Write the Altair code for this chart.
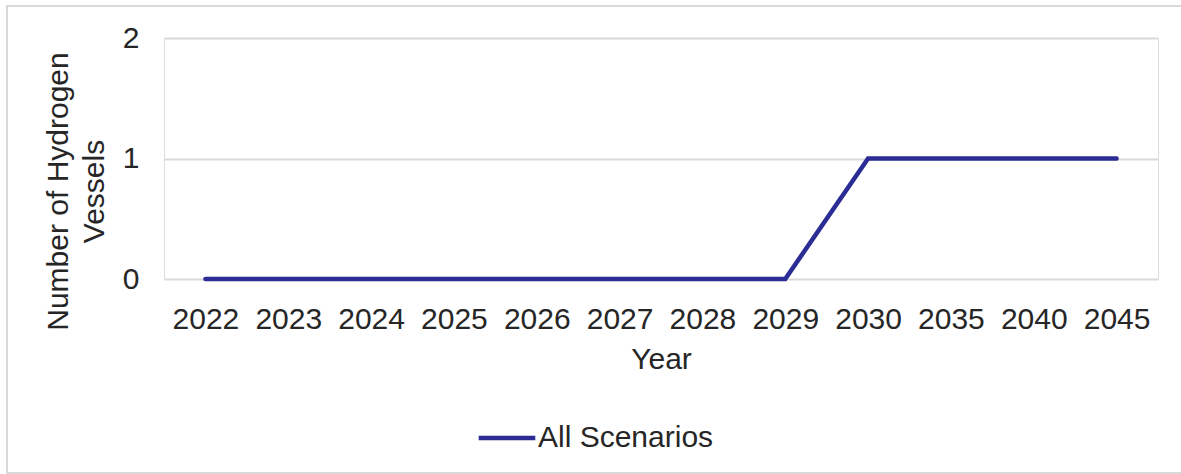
import altair as alt
import pandas as pd

years = ["2022", "2023", "2024", "2025", "2026", "2027", "2028", "2029",
         "2030", "2035", "2040", "2045"]
vessels = [0, 0, 0, 0, 0, 0, 0, 0, 1, 1, 1, 1]
series = "All Scenarios"

df = pd.DataFrame({"Year": years, "Vessels": vessels, "Series": [series] * len(years)})

FONT = "Liberation Sans"
TXT = "#262626"
W, H = 994, 241
PL, PT = 164, 38

line = alt.Chart(df).mark_line(strokeWidth=4.5, strokeCap="round").encode(
    x=alt.X("Year:O", sort=years,
            axis=alt.Axis(title="Year", labelAngle=0, domain=False, ticks=False, tickSize=0,
                          grid=False, labelFontSize=30, labelFont=FONT, labelColor=TXT,
                          labelBaseline="alphabetic", labelPadding=49,
                          titleFontSize=30, titleFont=FONT, titleColor=TXT,
                          titleFontWeight="normal", titleBaseline="alphabetic",
                          titleY=89, titleX=W / 2)),
    y=alt.Y("Vessels:Q", scale=alt.Scale(domain=[0, 2]),
            axis=alt.Axis(title=["Number of Hydrogen", "Vessels"], values=[0, 1, 2],
                          format=".0f", labelOverlap=False,
                          domain=False, ticks=False, tickSize=0, grid=True,
                          gridColor="#D9D9D9", gridWidth=2,
                          labelFontSize=30, labelFont=FONT, labelColor=TXT, labelPadding=25,
                          titleFontSize=30, titleFont=FONT, titleColor=TXT,
                          titleFontWeight="normal", titleLineHeight=36,
                          titleAngle=270, titleBaseline="bottom",
                          titleX=-91, titleY=153, titleAlign="center")),
    color=alt.Color("Series:N", scale=alt.Scale(range=["#2B2D95"]),
                    legend=alt.Legend(title=None, orient="none", legendX=312, legendY=369,
                                      symbolType="stroke", symbolSize=3200,
                                      symbolStrokeWidth=4.5, labelFontSize=30,
                                      labelFont=FONT, labelColor=TXT, labelOffset=0,
                                      labelLimit=400, padding=0)),
)

border = alt.Chart(df).mark_rect(fill=None, stroke="#D9D9D9", strokeWidth=2).encode(
    x=alt.value(7 - PL), x2=alt.value(1200 - PL), y=alt.value(6 - PT), y2=alt.value(473 - PT)
)

chart = alt.layer(border, line).properties(
    width=W, height=H,
    autosize=alt.AutoSizeParams(type="none"),
    padding={"left": PL, "top": PT, "right": 1181 - PL - W, "bottom": 474 - PT - H},
).configure_view(stroke=None).configure(background="white")

chart.save("out.html", embed_options={"renderer": "svg", "actions": False})
